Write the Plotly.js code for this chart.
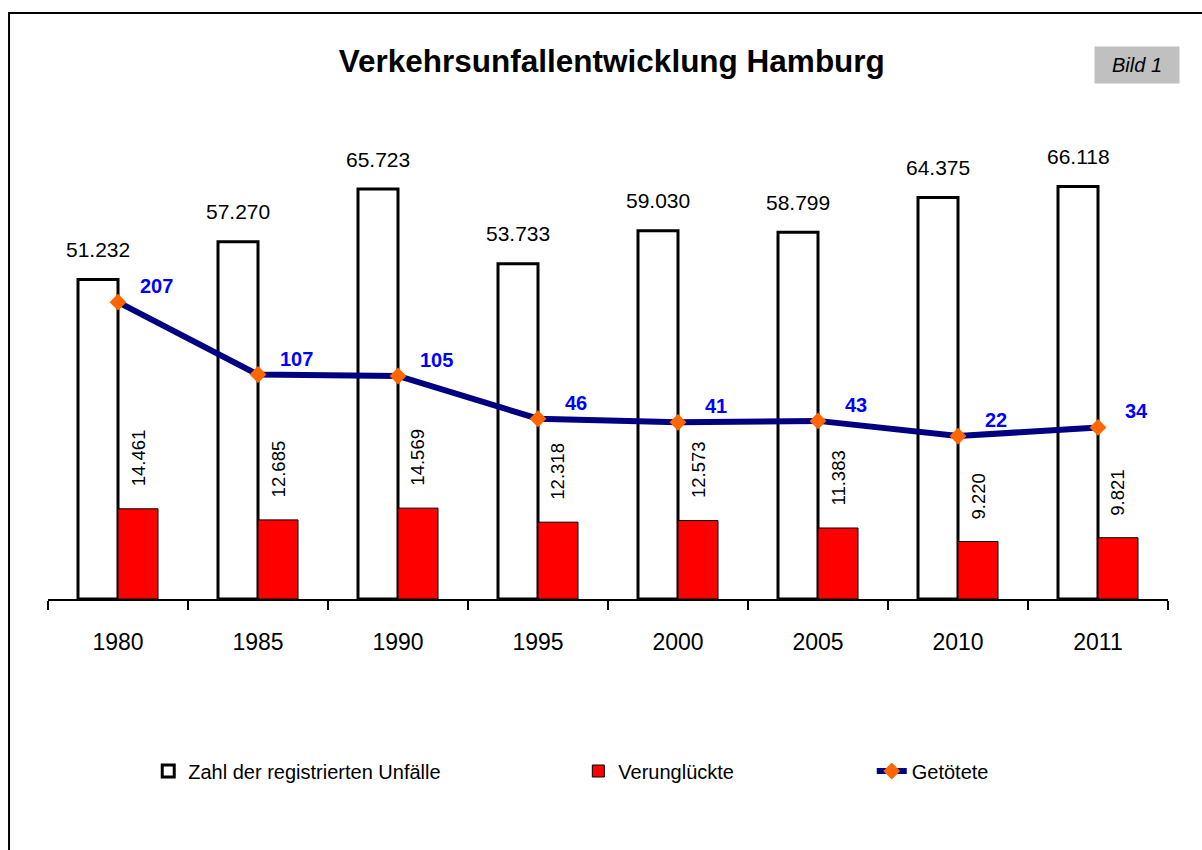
<!DOCTYPE html>
<html>
<head>
<meta charset="utf-8">
<script src="https://cdn.plot.ly/plotly-3.0.1.min.js"></script>
<style>html,body{margin:0;padding:0;background:#fff;}#chart{width:1202px;height:850px;}</style>
</head>
<body>
<div id="chart"></div>
<script>
const years = ['1980', '1985', '1990', '1995', '2000', '2005', '2010', '2011'];
const unfaelle = [51232, 57270, 65723, 53733, 59030, 58799, 64375, 66118];
const verunglueckte = [14461, 12685, 14569, 12318, 12573, 11383, 9220, 9821];
const getoetete = [207, 107, 105, 46, 41, 43, 22, 34];

const seriesNames = ['Zahl der registrierten Unfälle', 'Verunglückte', 'Getötete'];
const titleText = 'Verkehrsunfallentwicklung Hamburg';
const badgeText = 'Bild 1';

const FONT = 'Liberation Sans, Arial, sans-serif';

function de(n) {
  return String(n).replace(/\B(?=(\d{3})+(?!\d))/g, '.');
}

const traces = [
  {
    type: 'bar', name: seriesNames[0], x: years, y: unfaelle,
    marker: { color: '#FFFFFF', line: { color: '#000000', width: 3 } },
    legend: 'legend', showlegend: true
  },
  {
    type: 'bar', name: seriesNames[1], x: years, y: verunglueckte,
    marker: { color: '#FF0000', line: { color: '#000000', width: 1 } },
    legend: 'legend2', showlegend: true
  },
  {
    type: 'scatter', mode: 'lines+markers', name: seriesNames[2], x: years, y: getoetete,
    yaxis: 'y2',
    line: { color: '#000080', width: 6 },
    marker: { symbol: 'diamond', size: 13, color: '#FF6600' },
    legend: 'legend3', showlegend: true
  }
];

const annotations = [];
years.forEach((yr, i) => {
  annotations.push({
    x: i, y: unfaelle[i], xref: 'x', yref: 'y', text: de(unfaelle[i]),
    showarrow: false, xanchor: 'center', yanchor: 'middle', xshift: -20, yshift: 30,
    font: { family: FONT, size: 21, color: '#000000' }
  });
  annotations.push({
    x: i, y: verunglueckte[i], xref: 'x', yref: 'y', text: de(verunglueckte[i]),
    showarrow: false, textangle: -90, xanchor: 'center', yanchor: 'bottom', xshift: 20, yshift: 20,
    font: { family: FONT, size: 18.5, color: '#000000' }
  });
  annotations.push({
    x: i, y: getoetete[i], xref: 'x', yref: 'y2', text: '<b>' + getoetete[i] + '</b>',
    showarrow: false, xanchor: 'center', yanchor: 'middle', xshift: 38, yshift: 16,
    font: { family: FONT, size: 20, color: '#0000FF' }
  });
});
annotations.push({
  x: 0.9723, y: 1.0707, xref: 'paper', yref: 'paper', text: '<i>' + badgeText + '</i>',
  showarrow: false, xanchor: 'center', yanchor: 'middle', width: 82, height: 34,
  bgcolor: '#C0C0C0', font: { family: FONT, size: 20, color: '#000000' }
});

const legendCommon = {
  visible: true, orientation: 'h', yref: 'paper', y: -0.3447, yanchor: 'middle', xanchor: 'left',
  bgcolor: 'rgba(0,0,0,0)', font: { family: FONT, size: 20, color: '#000000' }
};

const layout = {
  width: 1202, height: 850,
  margin: { l: 48, r: 34, t: 100, b: 251 },
  paper_bgcolor: '#FFFFFF', plot_bgcolor: '#FFFFFF',
  font: { family: FONT, color: '#000000' },
  showlegend: true,
  title: {
    text: '<b>' + titleText + '</b>', xref: 'container', x: 0.509, xanchor: 'center',
    yref: 'container', y: 0.928, yanchor: 'middle',
    font: { family: FONT, size: 31.5, color: '#000000' }
  },
  barmode: 'group', bargap: 0.4286, bargroupgap: 0,
  xaxis: {
    type: 'category', range: [-0.5, years.length - 0.5], showline: true, linecolor: '#000000', linewidth: 2,
    ticks: 'outside', tickson: 'boundaries', ticklen: 9, tickwidth: 1.5, tickcolor: '#000000',
    tickfont: { family: FONT, size: 23, color: '#000000' }, ticklabelstandoff: 21,
    showgrid: false, zeroline: false, fixedrange: true
  },
  yaxis: {
    range: [0, 80000], visible: false, showgrid: false, zeroline: false, fixedrange: true
  },
  yaxis2: {
    overlaying: 'y', side: 'right', range: [-203, 486.2], visible: false,
    showgrid: false, zeroline: false, fixedrange: true
  },
  legend: Object.assign({}, legendCommon, { x: 0.0895 }),
  legend2: Object.assign({}, legendCommon, { x: 0.4735 }),
  legend3: Object.assign({}, legendCommon, { x: 0.7355 }),
  annotations: annotations,
  shapes: [{
    type: 'rect', xref: 'paper', yref: 'paper', x0: -0.0348, x1: 1.3, y0: -1.2, y1: 1.1743,
    line: { color: '#000000', width: 2 }, fillcolor: 'rgba(0,0,0,0)', layer: 'below'
  }],
  hovermode: false
};

Plotly.newPlot('chart', traces, layout, { staticPlot: true, displayModeBar: false });
</script>
</body>
</html>
